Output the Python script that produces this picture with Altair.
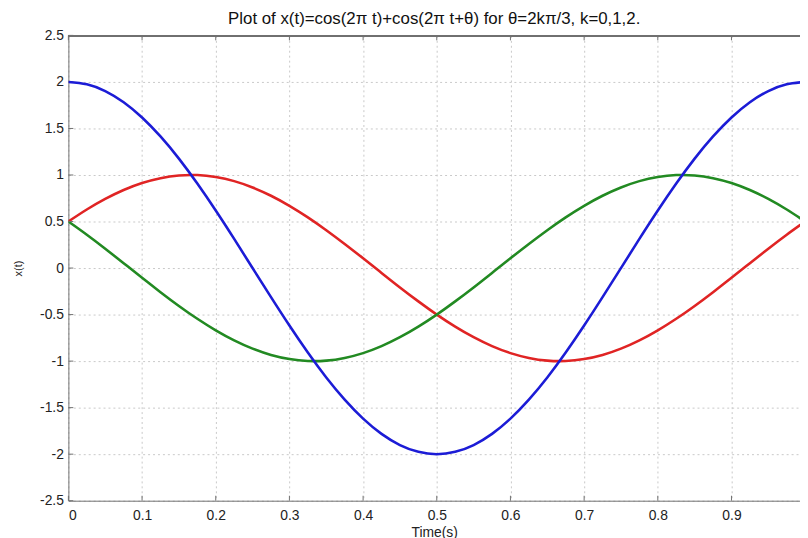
import altair as alt
import pandas as pd

t = [round(i * 0.025, 3) for i in range(41)]
blue = [2.000, 1.975, 1.902, 1.782, 1.618, 1.414, 1.176, 0.908, 0.618, 0.313, 0.000,
        -0.313, -0.618, -0.908, -1.176, -1.414, -1.618, -1.782, -1.902, -1.975, -2.000,
        -1.975, -1.902, -1.782, -1.618, -1.414, -1.176, -0.908, -0.618, -0.313, 0.000,
        0.313, 0.618, 0.908, 1.176, 1.414, 1.618, 1.782, 1.902, 1.975, 2.000]
red = [0.500, 0.629, 0.743, 0.839, 0.914, 0.966, 0.995, 0.999, 0.978, 0.934, 0.866,
       0.777, 0.669, 0.545, 0.407, 0.259, 0.105, -0.052, -0.208, -0.358, -0.500,
       -0.629, -0.743, -0.839, -0.914, -0.966, -0.995, -0.999, -0.978, -0.934, -0.866,
       -0.777, -0.669, -0.545, -0.407, -0.259, -0.105, 0.052, 0.208, 0.358, 0.500]
green = [0.500, 0.358, 0.208, 0.052, -0.105, -0.259, -0.407, -0.545, -0.669, -0.777, -0.866,
         -0.934, -0.978, -0.999, -0.995, -0.966, -0.914, -0.839, -0.743, -0.629, -0.500,
         -0.358, -0.208, -0.052, 0.105, 0.259, 0.407, 0.545, 0.669, 0.777, 0.866,
         0.934, 0.978, 0.999, 0.995, 0.966, 0.914, 0.839, 0.743, 0.629, 0.500]

series_names = ["k=2", "k=1", "k=0"]
series_colors = ["#e02424", "#228a22", "#1c1cd6"]
x_ticks = [0, 0.1, 0.2, 0.3, 0.4, 0.5, 0.6, 0.7, 0.8, 0.9]
y_ticks = [-2.5, -2, -1.5, -1, -0.5, 0, 0.5, 1, 1.5, 2, 2.5]

W, H = 739, 470
FONT = "Liberation Sans"
FRAME = "#707070"

xscale = alt.Scale(domain=[0, 0.993], nice=False, zero=False)
yscale = alt.Scale(domain=[-2.5, 2.5], nice=False)

x_axis = alt.Axis(values=x_ticks, title="Time(s)", grid=True, gridColor="#c8c8c8",
                  gridDash=[2, 3], tickSize=0, labelPadding=8, domain=True,
                  domainColor=FRAME, labelExpr="toString(datum.value)",
                  titleY=36, titleBaseline="alphabetic", titleFontWeight="normal")
y_axis = alt.Axis(values=y_ticks, title="x(t)", grid=True, gridColor="#c8c8c8",
                  gridDash=[2, 3], tickSize=0, labelPadding=5, domain=True,
                  domainColor=FRAME, labelExpr="toString(datum.value)",
                  titleX=-45, titleY=235, titleFontSize=11, titleFontWeight="normal")

layers = []
for name, vals, col in zip(series_names, [red, green, blue], series_colors):
    d = pd.DataFrame({"t": t, "x": vals, "series": name})
    layers.append(
        alt.Chart(d).mark_line(strokeWidth=2.6, clip=True, interpolate="natural", color=col)
        .encode(x=alt.X("t:Q", scale=xscale, axis=x_axis),
                y=alt.Y("x:Q", scale=yscale, axis=y_axis))
    )

xt = pd.DataFrame({"t": x_ticks})
yt = pd.DataFrame({"x": y_ticks})
tick_bottom = alt.Chart(xt).mark_rule(color=FRAME, strokeWidth=1).encode(
    x=alt.X("t:Q", scale=xscale, axis=x_axis), y=alt.value(H), y2=alt.value(H - 5))
tick_top = alt.Chart(xt).mark_rule(color=FRAME, strokeWidth=1).encode(
    x=alt.X("t:Q", scale=xscale, axis=x_axis), y=alt.value(0), y2=alt.value(5))
tick_left = alt.Chart(yt).mark_rule(color=FRAME, strokeWidth=1).encode(
    y=alt.Y("x:Q", scale=yscale, axis=y_axis), x=alt.value(0), x2=alt.value(5))
top_line = alt.Chart(xt).mark_rule(color=FRAME, strokeWidth=1).encode(
    x=alt.value(0), x2=alt.value(W), y=alt.value(0.5))

chart = alt.layer(*layers[:2], tick_bottom, tick_top, tick_left, top_line, layers[2]).properties(
    width=W, height=H,
    title=alt.TitleParams("Plot of x(t)=cos(2\u03c0 t)+cos(2\u03c0 t+\u03b8) for \u03b8=2k\u03c0/3, k=0,1,2.",
                          fontSize=17, fontWeight="normal", font=FONT, color="#111", offset=1),
    autosize=alt.AutoSizeParams(type="none"),
    padding={"left": 61, "top": 25, "right": 0, "bottom": 35},
).configure_view(stroke=None).configure_axis(
    labelFont=FONT, titleFont=FONT, labelFontSize=14, titleFontSize=14,
    labelColor="#222", titleColor="#222",
)

chart.save("out.html", embed_options={"renderer": "svg", "actions": False})
